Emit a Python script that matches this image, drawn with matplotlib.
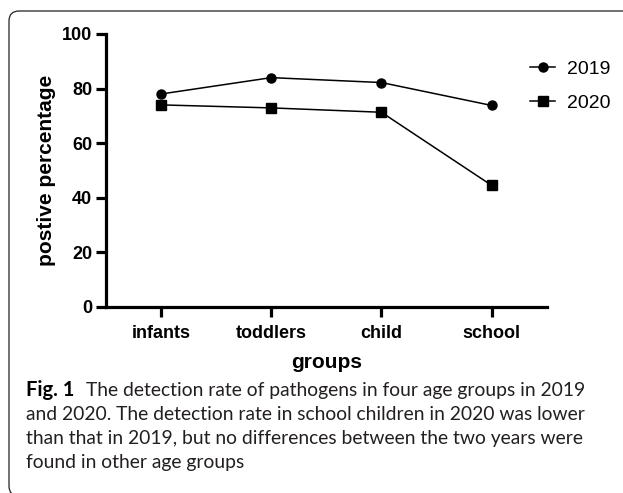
import matplotlib
matplotlib.use("Agg")
import matplotlib.pyplot as plt
from matplotlib.patches import FancyBboxPatch
from matplotlib.transforms import Affine2D

groups = ["infants", "toddlers", "child", "school"]
y2019 = [78.0, 84.0, 82.2, 73.8]
y2020 = [74.0, 72.9, 71.3, 44.5]
yticks = [0, 20, 40, 60, 80, 100]

caption_lines = [
    "The detection rate of pathogens in four age groups in 2019",
    "and 2020. The detection rate in school children in 2020 was lower",
    "than that in 2019, but no differences between the two years were",
    "found in other age groups",
]

W, H = 623, 493
fig = plt.figure(figsize=(W / 100, H / 100), dpi=100)
plt.rcParams['font.family'] = ['Liberation Sans', 'DejaVu Sans']
px = Affine2D().scale(1 / W, 1 / H) + fig.transFigure  # pixel coords, origin bottom-left
ytr = Affine2D().scale(1 / W, -1 / H).translate(0, 1) + fig.transFigure  # origin top-left

ax = fig.add_axes([106 / W, (H - 306.7) / H, (546.7 - 106) / W, (306.7 - 34) / H])
x = list(range(len(groups)))
ax.plot(x, y2019, color="black", lw=1.1, marker="o", ms=6.5, label="2019")
ax.plot(x, y2020, color="black", lw=1.1, marker="s", ms=6.8, label="2020")
ax.set_xlim(-0.5, 3.5)
ax.set_ylim(0, 100)
ax.set_yticks(yticks)
ax.set_xticks(x)
ax.set_xticklabels(groups)
for s in ["top", "right"]:
    ax.spines[s].set_visible(False)
for s in ["left", "bottom"]:
    ax.spines[s].set_linewidth(2.3)
ax.tick_params(width=2.3, length=7, labelsize=13)
ax.tick_params(axis="x", pad=6)
ax.tick_params(axis="y", pad=3)
for lab in ax.get_xticklabels() + ax.get_yticklabels():
    lab.set_fontweight("bold")
ax.set_xlabel("groups", fontsize=15, fontweight="bold", labelpad=8)
ax.set_ylabel("postive percentage", fontsize=15, fontweight="bold", labelpad=4)

leg = ax.legend(loc="upper left", bbox_to_anchor=(530, H - 60),
                bbox_transform=px, frameon=False, fontsize=14,
                handlelength=1.3, handletextpad=0.6, labelspacing=0.85,
                borderaxespad=0, borderpad=0)

# border (open on right and bottom, which lie outside the image)
border = FancyBboxPatch((9, -3), 700, H - 11 + 3,
                        boxstyle="round,pad=0,rounding_size=10",
                        transform=px, fill=False,
                        edgecolor="#222222", lw=0.9)
fig.add_artist(border)

# caption
cap_font = ['Lato', 'DejaVu Sans']
fs = 13.9
fig.canvas.draw()
r = fig.canvas.get_renderer()
y0 = 396
t0 = fig.text(26, y0, "Fig. 1", fontsize=fs + 0.6, fontweight="bold",
              family=cap_font, color="black", va="baseline", transform=ytr)
bb = t0.get_window_extent(r)
fig.text(bb.x1 + 12, y0, caption_lines[0], fontsize=fs,
         family=cap_font, color="#231f20", va="baseline", transform=ytr)
for i, line in enumerate(caption_lines[1:], start=1):
    fig.text(26, y0 + 24 * i, line, fontsize=fs,
             family=cap_font, color="#231f20", va="baseline", transform=ytr)

fig.savefig("out.png", dpi=100)
